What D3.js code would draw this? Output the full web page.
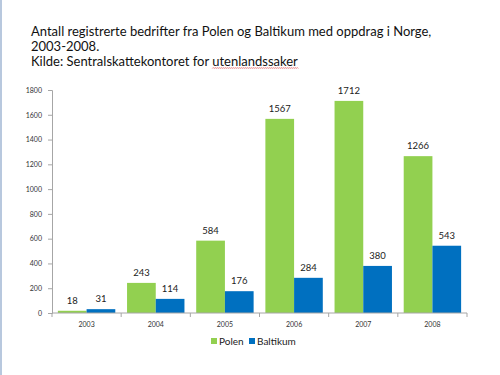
<!DOCTYPE html>
<html>
<head>
<meta charset="utf-8">
<script src="https://cdn.jsdelivr.net/npm/d3@7/dist/d3.min.js"></script>
<style>
  body { margin: 0; background: #fff; }
  text { font-family: Lato, "Open Sans", sans-serif; }
</style>
</head>
<body>
<script>
const years = ['2003', '2004', '2005', '2006', '2007', '2008'];
const polen = [18, 243, 584, 1567, 1712, 1266];
const baltikum = [31, 114, 176, 284, 380, 543];
const yTicks = [0, 200, 400, 600, 800, 1000, 1200, 1400, 1600, 1800];
const titleLines = [
  'Antall registrerte bedrifter fra Polen og Baltikum med oppdrag i Norge,',
  '2003-2008.',
  'Kilde: Sentralskattekontoret for utenlandssaker'
];
const seriesNames = ['Polen', 'Baltikum'];
const colors = ['#92d050', '#0070c0'];

const W = 500, H = 375;
const margin = { top: 90, right: 33, bottom: 62, left: 52 };
const width = W - margin.left - margin.right;
const height = H - margin.top - margin.bottom;

const svg = d3.select('body').append('svg')
    .attr('width', W)
    .attr('height', H);

// slide border on the left
svg.append('rect').attr('x', 0).attr('y', 0).attr('width', 2).attr('height', H).attr('fill', '#b8c8de');

// title, one text per line
const titleTexts = titleLines.map((t, i) => svg.append('text')
    .attr('x', 31).attr('y', 36 + i * 15)
    .attr('fill', '#111').style('font-size', '13px')
    .text(t));

// red spell-check squiggle under "utenlandssaker"
const last = titleTexts[2].node();
const word = 'utenlandssaker';
const start = titleLines[2].indexOf(word);
const wx0 = 31 + last.getSubStringLength(0, start);
const wx1 = wx0 + last.getSubStringLength(start, word.length);
const squiggle = d3.path();
squiggle.moveTo(wx0, 68.5);
for (let sx = wx0; sx < wx1 - 1; sx += 2) {
    squiggle.lineTo(sx + 1, 67.5);
    squiggle.lineTo(sx + 2, 68.5);
}
svg.append('path').attr('d', squiggle.toString()).attr('fill', 'none')
    .attr('stroke', '#e05050').attr('stroke-width', 0.7);

const main = svg.append('g')
    .attr('transform', `translate(${margin.left}, ${margin.top})`);

const x = d3.scaleBand().domain(years).range([0, width]).paddingInner(0.17).paddingOuter(0.085);
const xs = d3.scaleBand().domain(seriesNames).range([0, x.bandwidth()]);
const y = d3.scaleLinear().domain([0, 1800]).range([height, 0]);

// y axis
const yAxis = main.append('g')
    .call(d3.axisLeft(y).tickValues(yTicks).tickFormat(d3.format('d')).tickSize(4).tickPadding(6));
yAxis.selectAll('text').style('font-size', '7px').attr('fill', '#333');
yAxis.selectAll('line, path').attr('stroke', '#a6a6a6');

// bars
const data = [polen, baltikum];
data.forEach((vals, s) => {
    const g = main.append('g');
    g.selectAll('rect').data(vals).enter().append('rect')
        .attr('x', (d, i) => x(years[i]) + xs(seriesNames[s]))
        .attr('y', d => y(d))
        .attr('width', xs.bandwidth())
        .attr('height', d => height - y(d))
        .attr('fill', colors[s]);
    g.selectAll('text').data(vals).enter().append('text')
        .attr('x', (d, i) => x(years[i]) + xs(seriesNames[s]) + xs.bandwidth() / 2)
        .attr('y', d => y(d) - 7)
        .attr('text-anchor', 'middle')
        .attr('fill', '#222')
        .style('font-size', '9.5px')
        .text(d => d);
});

// x axis with ticks between categories
const xAxisG = main.append('g').attr('transform', `translate(0, ${height})`);
xAxisG.append('line').attr('x1', 0).attr('x2', width).attr('stroke', '#a6a6a6');
const step = width / years.length;
xAxisG.selectAll('line.tick').data(d3.range(years.length + 1)).enter().append('line')
    .attr('class', 'tick')
    .attr('x1', d => d * step).attr('x2', d => d * step)
    .attr('y1', 0).attr('y2', 4)
    .attr('stroke', '#a6a6a6');
xAxisG.selectAll('text').data(years).enter().append('text')
    .attr('x', d => x(d) + x.bandwidth() / 2)
    .attr('y', 14)
    .attr('text-anchor', 'middle')
    .attr('fill', '#333')
    .style('font-size', '7px')
    .text(d => d);

// legend
const legend = svg.append('g').attr('transform', 'translate(211, 343)');
const legendX = [0, 38];
seriesNames.forEach((n, i) => {
    legend.append('rect').attr('x', legendX[i]).attr('y', -5).attr('width', 6).attr('height', 6).attr('fill', colors[i]);
    legend.append('text').attr('x', legendX[i] + 8).attr('y', 1.5).attr('fill', '#222')
        .style('font-size', '10px').text(n);
});
</script>
</body>
</html>
